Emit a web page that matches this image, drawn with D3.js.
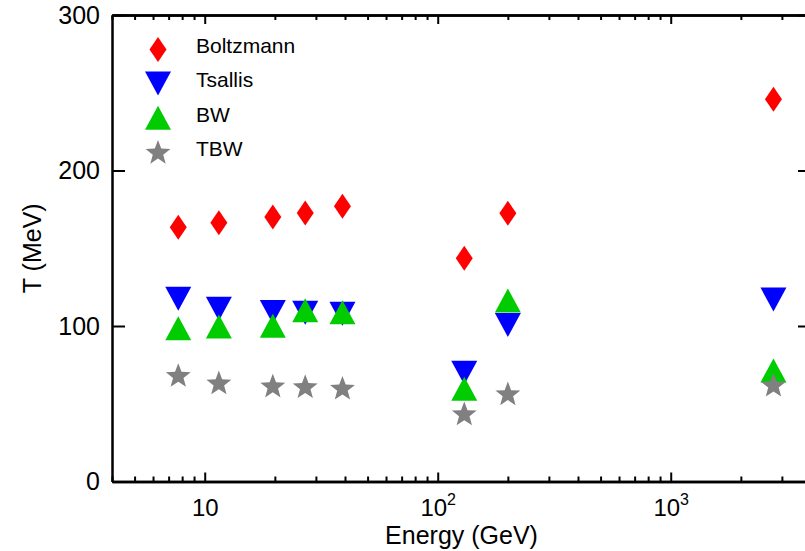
<!DOCTYPE html>
<html>
<head>
<meta charset="utf-8">
<script src="https://cdn.jsdelivr.net/npm/d3@7"></script>
<style>
  body { margin: 0; background: #fff; }
  svg { display: block; font-family: "Liberation Sans", Arial, Helvetica, sans-serif; }
</style>
</head>
<body>
<div id="chart"></div>
<script>
// collision energy (GeV)
var energy = [7.7, 11.5, 19.6, 27, 39, 130, 200, 2760];

// temperatures (MeV) per model
var boltzmann = [163.5, 166.4, 170.1, 172.7, 177.0, 143.5, 172.5, 245.8];
var tsallis   = [117.5, 111.1, 109.0, 108.6, 107.9, 69.9, 100.6, 117.0];
var bw        = [98.5, 99.7, 100.1, 110.2, 108.8, 59.6, 116.4, 71.4];
var tbw       = [68.5, 63.7, 61.7, 61.3, 60.3, 43.8, 56.7, 62.3];

var seriesNames = ["Boltzmann", "Tsallis", "BW", "TBW"];
var yTicks = [0, 100, 200, 300];
var xMajor = [10, 100, 1000];

function init() {

	var W = 805, H = 551;
	var margin = {top: 15, left: 112};
	var w = 699, h = 466.5;

	var x = d3.scaleLog().domain([4, 4000]).range([0, w]);
	var y = d3.scaleLinear().domain([0, 300]).range([h, 0]);

	// marker shapes
	var diamond = {draw: function(c, s) {
		c.moveTo(0, -12.5); c.lineTo(8.5, 0); c.lineTo(0, 12.5); c.lineTo(-8.5, 0); c.closePath();
	}};
	var triDown = {draw: function(c, s) {
		c.moveTo(-13, -12); c.lineTo(13, -12); c.lineTo(0, 12); c.closePath();
	}};
	var triUp = {draw: function(c, s) {
		c.moveTo(-13, 12); c.lineTo(13, 12); c.lineTo(0, -12); c.closePath();
	}};
	var star = {draw: function(c, s) {
		var R = 13.1, r = R * 0.42, off = R * 0.0955;
		for (var i = 0; i < 10; i++) {
			var rad = i % 2 ? r : R;
			var a = -Math.PI / 2 + i * Math.PI / 5;
			var px = rad * Math.cos(a), py = rad * Math.sin(a) + off;
			if (i == 0) c.moveTo(px, py); else c.lineTo(px, py);
		}
		c.closePath();
	}};

	var series = [
		{name: seriesNames[0], values: boltzmann, type: diamond, color: "#ff0000"},
		{name: seriesNames[1], values: tsallis, type: triDown, color: "#0000ff"},
		{name: seriesNames[2], values: bw, type: triUp, color: "#00cc00"},
		{name: seriesNames[3], values: tbw, type: star, color: "#808080"}
	];

	var svg = d3.select("#chart")
				.append("svg")
				.attr("width", W)
				.attr("height", H);

	var g = svg.append("g")
			   .attr("transform", "translate(" + margin.left + "," + margin.top + ")");

	// minor x ticks
	var xMinor = [];
	for (var e = 0; e < 4; e++) {
		for (var m = 1; m < 10; m++) {
			var v = m * Math.pow(10, e);
			if (v >= 4 && v <= 4000 && xMajor.indexOf(v) < 0) xMinor.push(v);
		}
	}

	function styleAxis(sel) {
		sel.selectAll("path").attr("stroke", "#000").attr("stroke-width", 2.5);
		sel.selectAll("line").attr("stroke", "#000").attr("stroke-width", 2);
	}

	g.append("g").attr("transform", "translate(0," + h + ")")
	 .call(d3.axisBottom(x).tickValues(xMinor).tickSize(-5).tickSizeOuter(0).tickFormat(""))
	 .call(styleAxis);
	var xb = g.append("g").attr("transform", "translate(0," + h + ")")
	 .call(d3.axisBottom(x).tickValues(xMajor).tickSize(-9).tickSizeOuter(0).tickFormat(""))
	 .call(styleAxis);
	g.append("g")
	 .call(d3.axisTop(x).tickValues(xMinor).tickSize(-5).tickSizeOuter(0).tickFormat(""))
	 .call(styleAxis);
	g.append("g")
	 .call(d3.axisTop(x).tickValues(xMajor).tickSize(-9).tickSizeOuter(0).tickFormat(""))
	 .call(styleAxis);

	// x tick labels: 10, 10^2, 10^3
	xb.selectAll(".tick").each(function(d) {
		var t = d3.select(this).append("text")
				  .attr("y", 34)
				  .attr("fill", "#000")
				  .attr("text-anchor", "middle")
				  .style("font-size", "24px");
		var p = Math.round(Math.log10(d));
		t.append("tspan").text("10");
		if (p > 1) {
			t.append("tspan").attr("dy", -11).style("font-size", "16px").text(p);
		}
	});

	g.append("g")
	 .call(d3.axisLeft(y).tickValues(yTicks).tickSize(-13).tickSizeOuter(0).tickPadding(12))
	 .call(styleAxis)
	 .selectAll("text").style("font-size", "25px").attr("fill", "#000");
	g.append("g").attr("transform", "translate(" + w + ",0)")
	 .call(d3.axisRight(y).tickValues(yTicks).tickSize(-13).tickSizeOuter(0).tickFormat(""))
	 .call(styleAxis);

	// axis titles
	svg.append("text")
	   .attr("x", margin.left + w / 2)
	   .attr("y", 544)
	   .attr("text-anchor", "middle")
	   .style("font-size", "25px")
	   .text("Energy (GeV)");

	svg.append("text")
	   .attr("transform", "translate(41," + (margin.top + h / 2) + ") rotate(-90)")
	   .attr("text-anchor", "middle")
	   .style("font-size", "25px")
	   .text("T (MeV)");

	// points
	series.forEach(function(s) {
		var sym = d3.symbol().type(s.type);
		g.selectAll(null)
		 .data(s.values)
		 .enter()
		 .append("path")
		 .attr("d", sym)
		 .attr("transform", function(d, i) {
			 return "translate(" + x(energy[i]) + "," + y(d) + ")";
		 })
		 .style("fill", s.color);
	});

	// legend
	var legend = svg.selectAll(".legend")
					.data(series)
					.enter()
					.append("g")
					.attr("class", "legend")
					.attr("transform", function(d, i) {
						return "translate(158," + (49.5 + i * 34.1) + ")";
					});
	legend.append("path")
		  .attr("d", function(d) { return d3.symbol().type(d.type)(); })
		  .style("fill", function(d) { return d.color; });
	legend.append("text")
		  .attr("x", 38)
		  .attr("y", 3.8)
		  .style("font-size", "21px")
		  .text(function(d) { return d.name; });
}

window.onload = init;
</script>
</body>
</html>
